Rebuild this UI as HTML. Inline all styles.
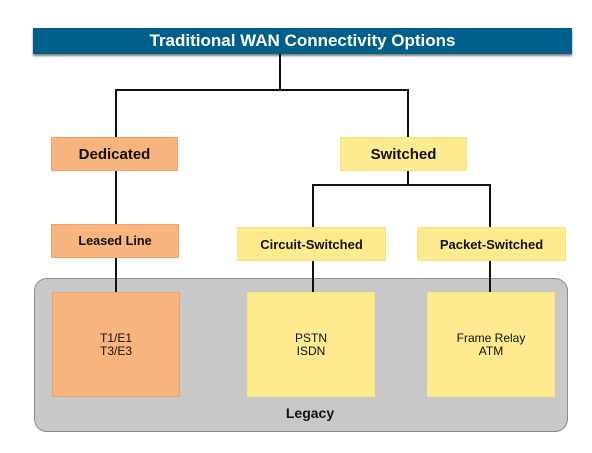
<!DOCTYPE html>
<html><head><style>
body{margin:0;width:592px;height:453px;background:#fff;position:relative;font-family:"Liberation Sans",sans-serif;overflow:hidden}
.b{position:absolute;box-sizing:border-box;display:flex;align-items:center;justify-content:center;text-align:center;font-weight:bold;color:#111}
.o{background:#f8b47e;border:1px solid #f4a06a}
.y{background:#feeb90;border:1px solid #fbe27a}
.l{position:absolute;background:#111}
</style></head><body>
<div style="position:absolute;left:34px;top:278px;width:534px;height:154px;background:#c8c8c8;border:1px solid #8a8a8a;border-radius:13px;box-sizing:border-box"></div>
<div class="b" style="left:33px;top:28px;width:539px;height:26px;background:#005f8a;color:#fff;font-size:17px;box-shadow:0 2px 2px rgba(0,0,0,.5)">Traditional WAN Connectivity Options</div>
<div class="l" style="left:279px;top:54px;width:2px;height:37px"></div>
<div class="l" style="left:115px;top:89px;width:294px;height:2px"></div>
<div class="l" style="left:115px;top:89px;width:2px;height:48px"></div>
<div class="l" style="left:407px;top:89px;width:2px;height:48px"></div>
<div class="l" style="left:115px;top:171px;width:2px;height:121px"></div>
<div class="l" style="left:407px;top:171px;width:2px;height:15px"></div>
<div class="l" style="left:312px;top:184px;width:179px;height:2px"></div>
<div class="l" style="left:312px;top:184px;width:2px;height:108px"></div>
<div class="l" style="left:489px;top:184px;width:2px;height:108px"></div>
<div class="b o" style="left:51px;top:137px;width:127px;height:34px;font-size:15px">Dedicated</div>
<div class="b y" style="left:340px;top:137px;width:127px;height:34px;font-size:15px">Switched</div>
<div class="b o" style="left:51px;top:224px;width:128px;height:34px;font-size:12.7px">Leased Line</div>
<div class="b y" style="left:237px;top:227px;width:149px;height:34px;font-size:13px">Circuit-Switched</div>
<div class="b y" style="left:417px;top:227px;width:149px;height:34px;font-size:13px">Packet-Switched</div>
<div class="b o" style="left:52px;top:292px;width:128px;height:105px;font-size:12px;font-weight:normal;line-height:13px">T1/E1<br>T3/E3</div>
<div class="b y" style="left:247px;top:292px;width:128px;height:105px;font-size:12px;font-weight:normal;line-height:13px">PSTN<br>ISDN</div>
<div class="b y" style="left:427px;top:292px;width:128px;height:105px;font-size:12px;font-weight:normal;line-height:13px">Frame Relay<br>ATM</div>
<div class="b" style="left:240px;top:403px;width:140px;height:20px;font-size:14px">Legacy</div>
</body></html>
